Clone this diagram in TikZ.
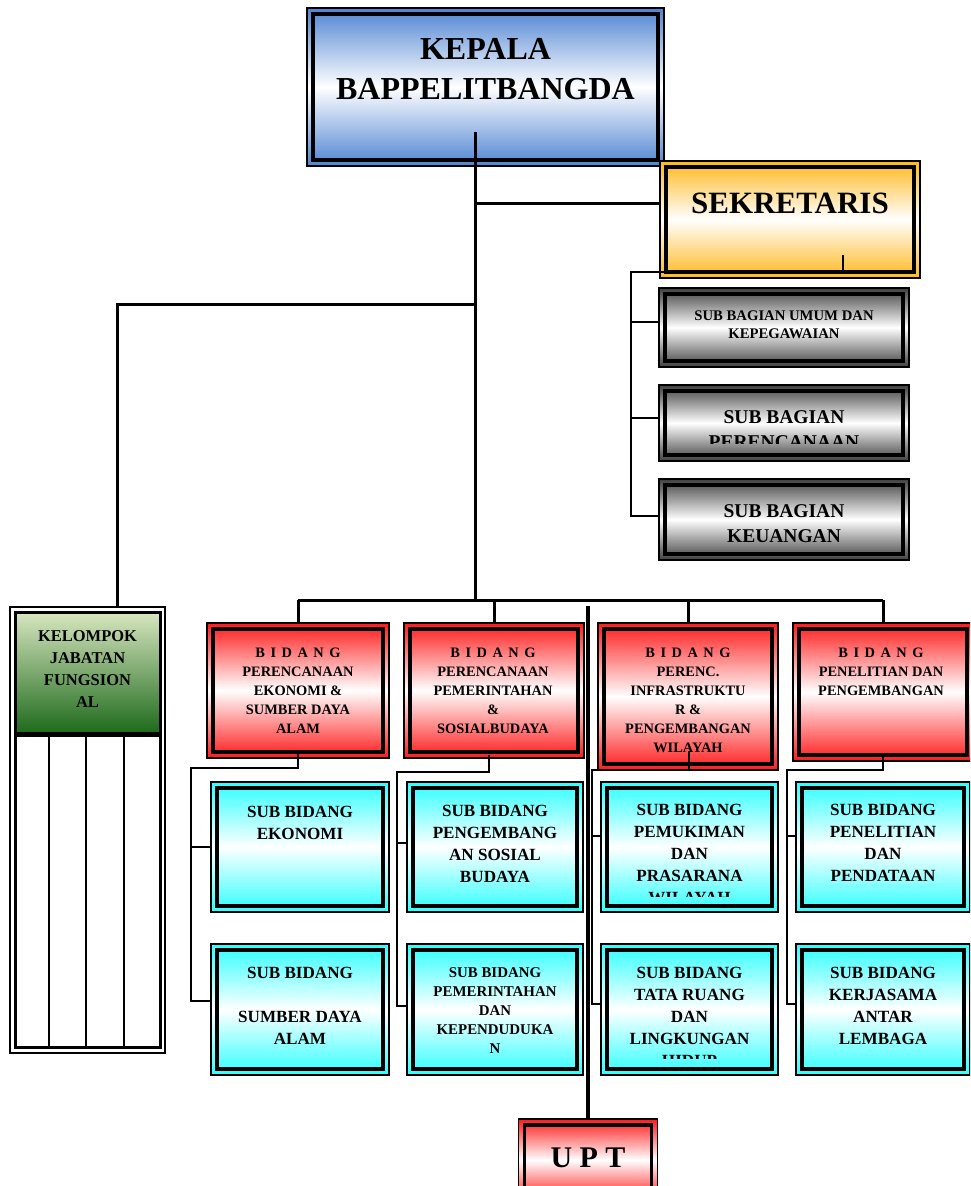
\documentclass[tikz,border=0pt]{standalone}
\usepackage{fontspec}
\setmainfont{Liberation Serif}
\usepackage{xcolor}
\usepackage{tikz}
\usetikzlibrary{calc}
\definecolor{kepalablue}{HTML}{4F84D2}
\definecolor{sekorange}{HTML}{FFB820}
\definecolor{bidangred}{HTML}{FF1A1A}
\definecolor{subcyan}{HTML}{2EFFFF}
\definecolor{kelgreenlt}{HTML}{D8E6C0}
\definecolor{kelgreendk}{HTML}{1E6A1C}

\newcommand{\bidangword}{B\hspace{5.5pt}I\hspace{5.5pt}D\hspace{5.5pt}A\hspace{5.5pt}N\hspace{5.5pt}G}

\begin{document}
\begin{tikzpicture}[x=1pt, y=-1pt, font=\bfseries,
    orgbox/.style={draw=black, line width=1.5pt, inner sep=0pt,
        path picture={\draw[line width=3.5pt, draw=black]
            ([shift={(6pt,-6pt)}]path picture bounding box.north west) rectangle
            ([shift={(-6pt,6pt)}]path picture bounding box.south east);}},
    kepalabox/.style={orgbox, top color=kepalablue, bottom color=kepalablue, middle color=white},
    sekbox/.style={orgbox, top color=sekorange, bottom color=sekorange, middle color=white},
    bagianbox/.style={orgbox, top color=black!75, bottom color=black!75, middle color=white, minimum width=250pt},
    bidangbox/.style={orgbox, top color=bidangred, bottom color=bidangred, middle color=white},
    subbox/.style={orgbox, top color=subcyan, bottom color=subcyan, middle color=white, minimum height=130pt},
    % base = baseline of the last line
    txt/.style={align=center, anchor=base, inner sep=0pt},
    bidtxt/.style={txt, font=\bfseries\fontsize{14.4}{19}\selectfont},
    subtxt/.style={txt, font=\bfseries\fontsize{17.1}{21.8}\selectfont},
    mainline/.style={line width=3pt},
    brline/.style={line width=2pt},
    uptline/.style={line width=4pt}]
    \clip (0,0) rectangle (970,1186);

    % Kepala and sekretaris
    \node[kepalabox, minimum width=357pt, minimum height=158pt] (kepala) at (485.5,87) {};
    \node[txt, font=\bfseries\fontsize{32}{40}\selectfont] (kepala-t) at (485.5,99) {KEPALA\\BAPPELITBANGDA};
    \node[sekbox, minimum width=260pt, minimum height=117pt] (sekre) at (790,219.5) {};
    \node[txt, font=\bfseries\fontsize{31}{38}\selectfont] (sekre-t) at (790,213) {SEKRETARIS};

    % Sub bagian
    \node[bagianbox, minimum height=79pt] (sb1) at (784,327.5) {};
    \node[txt, font=\bfseries\fontsize{14.7}{18}\selectfont] (sb1-t) at (784,338) {SUB BAGIAN UMUM DAN\\KEPEGAWAIAN};
    \node[bagianbox, minimum height=76pt] (sb2) at (784,423) {};
    \begin{scope}
        \clip (659,385) rectangle (909,443);
        \node[txt, font=\bfseries\fontsize{19.5}{25}\selectfont] (sb2-t) at (784,448) {SUB BAGIAN\\PERENCANAAN};
    \end{scope}
    \node[bagianbox, minimum height=81pt] (sb3) at (784,519.5) {};
    \node[txt, font=\bfseries\fontsize{19.5}{25}\selectfont] (sb3-t) at (784,542) {SUB BAGIAN\\KEUANGAN};

    % Kelompok jabatan fungsional
    \node[draw, line width=1.5pt, inner sep=0pt, minimum width=155pt, minimum height=446pt] (kelompok) at (87.5,830) {};
    \node[draw, line width=3pt, inner sep=0pt, top color=kelgreenlt, bottom color=kelgreendk,
        minimum width=145pt, minimum height=121pt] (kelhead) at (87.5,672.5) {};
    \node[draw, line width=3pt, inner sep=0pt, minimum width=145pt, minimum height=312pt] (keltab) at (87.5,891) {};
    \foreach \x in {49,86,124}
        \draw[line width=2pt] (\x,735) -- (\x,1047);
    \node[txt, font=\bfseries\fontsize{16.5}{21.7}\selectfont] (kel-t) at (87.5,707) {KELOMPOK\\JABATAN\\FUNGSION\\AL};

    % Bidang
    \node[bidangbox, minimum width=182pt, minimum height=135pt] (bid1) at (298,690.5) {};
    \node[bidtxt] (bid1-t) at (298,733) {\bidangword\\PERENCANAAN\\EKONOMI \&\\SUMBER DAYA\\ALAM};
    \node[bidangbox, minimum width=180pt, minimum height=135pt] (bid2) at (494,690.5) {};
    \node[bidtxt] (bid2-t) at (493,733) {\bidangword\\PERENCANAAN\\PEMERINTAHAN\\\&\\SOSIALBUDAYA};
    \node[bidangbox, minimum width=180pt, minimum height=147pt] (bid3) at (688,696.5) {};
    \node[bidtxt] (bid3-t) at (688,752) {\bidangword\\PERENC.\\INFRASTRUKTU\\R \&\\PENGEMBANGAN\\WILAYAH};
    \node[bidangbox, minimum width=180pt, minimum height=138pt] (bid4) at (883,692) {};
    \node[bidtxt] (bid4-t) at (881,695) {\bidangword\\PENELITIAN DAN\\PENGEMBANGAN};

    % Sub bidang
    \node[subbox, minimum width=178pt] (sbd11) at (300,847) {};
    \node[subtxt] (sbd11-t) at (300,839) {SUB BIDANG\\EKONOMI};
    \node[subbox, minimum width=178pt, minimum height=131pt] (sbd12) at (300,1009.5) {};
    \node[subtxt] (sbd12-t) at (300,1044) {SUB BIDANG\\[21.8pt]SUMBER DAYA\\ALAM};
    \node[subbox, minimum width=176pt] (sbd21) at (495,847) {};
    \node[subtxt] (sbd21-t) at (495,882) {SUB BIDANG\\PENGEMBANG\\AN SOSIAL\\BUDAYA};
    \node[subbox, minimum width=176pt, minimum height=131pt] (sbd22) at (495,1009.5) {};
    \node[txt, font=\bfseries\fontsize{14.9}{19}\selectfont] (sbd22-t) at (495,1053) {SUB BIDANG\\PEMERINTAHAN\\DAN\\KEPENDUDUKA\\N};
    \node[subbox, minimum width=177pt] (sbd31) at (689.5,847) {};
    \begin{scope}
        \clip (601,782) rectangle (778,896);
        \node[subtxt] (sbd31-t) at (689.5,903) {SUB BIDANG\\PEMUKIMAN\\DAN\\PRASARANA\\WILAYAH};
    \end{scope}
    \node[subbox, minimum width=177pt, minimum height=131pt] (sbd32) at (689.5,1009.5) {};
    \begin{scope}
        \clip (601,944) rectangle (778,1058);
        \node[subtxt] (sbd32-t) at (689.5,1066) {SUB BIDANG\\TATA RUANG\\DAN\\LINGKUNGAN\\HIDUP};
    \end{scope}
    \node[subbox, minimum width=174pt] (sbd41) at (883,847) {};
    \node[subtxt] (sbd41-t) at (883,881) {SUB BIDANG\\PENELITIAN\\DAN\\PENDATAAN};
    \node[subbox, minimum width=174pt, minimum height=131pt] (sbd42) at (883,1009.5) {};
    \node[subtxt] (sbd42-t) at (883,1044) {SUB BIDANG\\KERJASAMA\\ANTAR\\LEMBAGA};

    % UPT
    \node[bidangbox, minimum width=139pt, minimum height=82pt] (upt) at (588,1160) {};
    \node[txt, font=\bfseries\fontsize{30}{36}\selectfont] (upt-t) at (588,1167) {U P T};

    % Main connectors
    \coordinate (kstem) at (475,132);
    \coordinate (bus) at (475,600);
    \coordinate (jsek) at (475,203);
    \coordinate (jkel) at (475,304);
    \draw[mainline] (kstem) -- (bus);
    \draw[mainline] (jsek) -- (jsek -| sekre.west);
    \draw[mainline] (jkel) -| ([xshift=29.5pt]kelompok.north);
    \draw[mainline] (bus -| bid1.north) -- (bus -| bid4.north);
    \draw[mainline] (bus -| bid1.north) -- (bid1.north);
    \draw[mainline] (bus -| bid2.north) -- (bid2.north);
    \draw[mainline] (bus -| bid3.north) -- (bid3.north);
    \draw[mainline] (bus -| bid4.north) -- (bid4.north);

    % Sekretaris bracket
    \coordinate (stick) at (843,255);
    \coordinate (sbrk) at (631,272);
    \draw[brline] (stick) |- (sbrk) |- ([yshift=6pt]sb1.west);
    \draw[brline] (sbrk) |- ([yshift=5pt]sb2.west);
    \draw[brline] (sbrk) |- ([yshift=3.5pt]sb3.west);

    % Bidang brackets
    \coordinate (e1) at (191,768);
    \coordinate (e2) at (397,772);
    \coordinate (e3) at (592,770);
    \coordinate (e4) at (787,770);
    \draw[brline] ([yshift=6pt]bid1.south) |- (e1) |- (sbd11.west);
    \draw[brline] (e1) |- ([yshift=8.5pt]sbd12.west);
    \draw[brline] ([xshift=-5pt,yshift=4pt]bid2.south) |- (e2) |- ([yshift=4pt]sbd21.west);
    \draw[brline] (e2) |- ([yshift=3.5pt]sbd22.west);
    \draw[brline] ([xshift=1pt,yshift=20pt]bid3.south) |- (e3) |- ([yshift=11pt]sbd31.west);
    \draw[brline] (e3) |- ([yshift=5.5pt]sbd32.west);
    \draw[brline] ([yshift=8pt]bid4.south) |- (e4) |- ([yshift=11pt]sbd41.west);
    \draw[brline] (e4) |- ([yshift=5.5pt]sbd42.west);

    % UPT line
    \coordinate (uptstart) at (588,606);
    \draw[uptline] (uptstart) -- (upt.north);
\end{tikzpicture}
\end{document}
